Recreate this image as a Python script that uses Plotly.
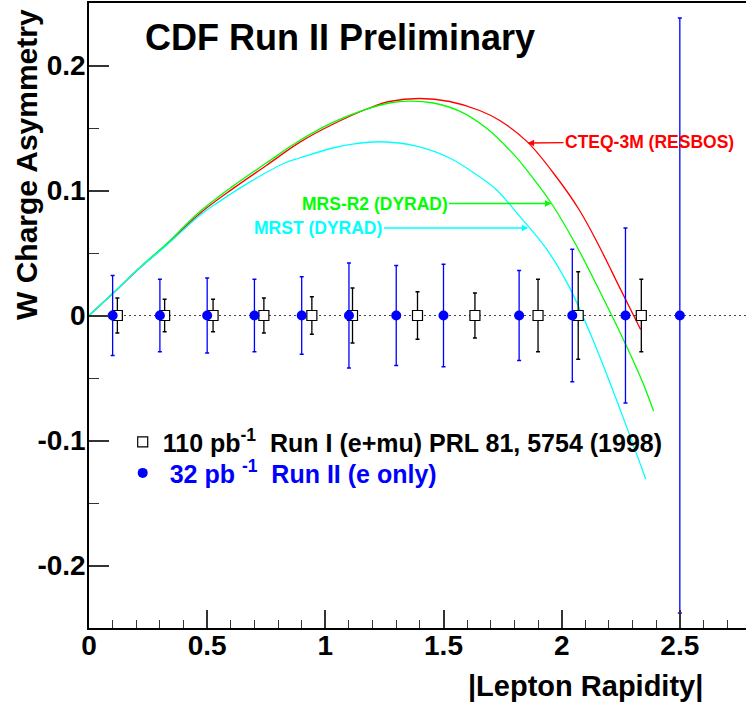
import plotly.graph_objects as go

# ---------------- data ----------------
run2_x = [0.10, 0.30, 0.50, 0.70, 0.90, 1.10, 1.30, 1.50, 1.82, 2.045, 2.27, 2.50]
run2_y = [0, 0, 0, 0, 0, 0, 0, 0, 0, 0, 0, 0]
run2_err = [0.032, 0.029, 0.030, 0.029, 0.031, 0.042, 0.040, 0.041, 0.036, 0.053, 0.070, 0.238]

run1_x = [0.12, 0.32, 0.525, 0.74, 0.943, 1.115, 1.39, 1.633, 1.90, 2.07, 2.337]
run1_y = [0, 0, 0, 0, 0, 0, 0, 0, 0, 0, 0]
run1_err = [0.014, 0.013, 0.013, 0.014, 0.015, 0.022, 0.019, 0.018, 0.029, 0.035, 0.029]

cteq_x = [0, 0.103, 0.2145, 0.327, 0.468, 0.609, 0.75, 0.891, 1.032, 1.2, 1.271, 1.399,
          1.526, 1.653, 1.738, 1.856, 1.977, 2.076, 2.16, 2.245, 2.334]
cteq_y = [0, 0.018, 0.038, 0.0565, 0.0815, 0.1015, 0.120, 0.1385, 0.153, 0.167, 0.1712, 0.1736,
          0.1712, 0.164, 0.156, 0.1387, 0.111, 0.084, 0.055, 0.0225, -0.0112]

mrsr2_x = [0, 0.103, 0.2145, 0.327, 0.468, 0.609, 0.75, 0.891, 1.032, 1.15, 1.271, 1.356,
           1.456, 1.568, 1.681, 1.794, 1.864, 1.957, 2.062, 2.165, 2.273, 2.344, 2.389]
mrsr2_y = [0, 0.0182, 0.0385, 0.0572, 0.083, 0.1035, 0.122, 0.140, 0.1545, 0.1635, 0.170, 0.1715,
           0.170, 0.1635, 0.150, 0.1295, 0.1135, 0.0896, 0.056, 0.018, -0.024, -0.054, -0.0765]

mrst_x = [0, 0.103, 0.2145, 0.327, 0.468, 0.546, 0.687, 0.828, 0.891, 1.032, 1.13, 1.23,
          1.385, 1.526, 1.66, 1.723, 1.822, 1.935, 2.033, 2.139, 2.25, 2.356]
mrst_y = [0, 0.018, 0.038, 0.056, 0.080, 0.0905, 0.1075, 0.122, 0.126, 0.134, 0.1375, 0.139,
          0.1355, 0.126, 0.110, 0.1008, 0.0795, 0.0535, 0.0225, -0.0225, -0.0765, -0.131]

x_tickvals = [0, 0.5, 1, 1.5, 2, 2.5]
x_ticktext = ["0", "0.5", "1", "1.5", "2", "2.5"]
y_tickvals = [-0.2, -0.1, 0, 0.1, 0.2]
y_ticktext = ["-0.2", "-0.1", "0", "0.1", "0.2"]

# label anchor points on curves (x, y)
cteq_label_pt = (1.856, 0.138)
mrsr2_label_pt = (1.957, 0.0896)
mrst_label_pt = (1.859, 0.0700)

FONT = "Liberation Sans, Arial, sans-serif"
NB = "\u00a0"

fig = go.Figure()

# theory curves
for cx, cy, col in [(cteq_x, cteq_y, "#ff0000"), (mrsr2_x, mrsr2_y, "#00ff00"), (mrst_x, mrst_y, "#00ffff")]:
    fig.add_trace(go.Scatter(x=cx, y=cy, mode="lines",
                             line=dict(color=col, width=1.3, shape="spline", smoothing=1.0),
                             showlegend=False, hoverinfo="skip"))

# Run I data
fig.add_trace(go.Scatter(
    x=run1_x, y=run1_y, mode="markers",
    marker=dict(symbol="square", size=10, color="white", line=dict(color="black", width=1.2)),
    error_y=dict(type="data", array=run1_err, color="black", thickness=1.3, width=2),
    name="110 pb<sup>-1</sup>" + NB + NB + "Run I (e+mu) PRL 81, 5754 (1998)",
    legend="legend",
))
# Run II data
fig.add_trace(go.Scatter(
    x=run2_x, y=run2_y, mode="markers",
    marker=dict(symbol="circle", size=10, color="#0000ff"),
    error_y=dict(type="data", array=run2_err, color="#0000ff", thickness=1.3, width=2),
    name='<span style="color:#0000ff">' + NB + "32 pb" + NB + "<sup>-1</sup>" + NB + NB + "Run II (e only)</span>",
    legend="legend2",
))

fig.add_hline(y=0, line=dict(color="#444444", width=1.2, dash="2px,3px"), layer="below")

ann_font = dict(family=FONT, size=17.5, weight="bold")
fig.add_annotation(x=cteq_label_pt[0], y=cteq_label_pt[1], xref="x", yref="y",
                   text="CTEQ-3M (RESBOS)", font=dict(color="#ff0000", **ann_font),
                   showarrow=True, ax=122, ay=-1, arrowhead=2, arrowsize=1, arrowwidth=1.3,
                   arrowcolor="#ff0000", standoff=0)
fig.add_annotation(x=mrsr2_label_pt[0], y=mrsr2_label_pt[1], xref="x", yref="y",
                   text="MRS-R2 (DYRAD)", font=dict(color="#00ff00", **ann_font),
                   showarrow=True, ax=-177, ay=0, arrowhead=2, arrowsize=1, arrowwidth=1.3,
                   arrowcolor="#00ff00", standoff=0)
fig.add_annotation(x=mrst_label_pt[0], y=mrst_label_pt[1], xref="x", yref="y",
                   text="MRST (DYRAD)", font=dict(color="#00ffff", **ann_font),
                   showarrow=True, ax=-210, ay=0, arrowhead=2, arrowsize=1, arrowwidth=1.3,
                   arrowcolor="#00ffff", standoff=0)

# title
fig.add_annotation(x=0.3828, y=0.9455, xref="paper", yref="paper", xanchor="center", yanchor="middle",
                   text="CDF Run II Preliminary", showarrow=False,
                   font=dict(family=FONT, size=36, weight="bold", color="black"))
# axis titles
fig.add_annotation(x=-0.0959, y=0.7424, xref="paper", yref="paper", xanchor="center", yanchor="middle",
                   text="W Charge Asymmetry", showarrow=False, textangle=-90,
                   font=dict(family=FONT, size=30, weight="bold", color="black"))
fig.add_annotation(x=0.9376, y=-0.092, xref="paper", yref="paper", xanchor="right", yanchor="middle",
                   text="|Lepton Rapidity|", showarrow=False,
                   font=dict(family=FONT, size=29, weight="bold", color="black"))

leg_common = dict(xanchor="left", yanchor="top", bgcolor="rgba(0,0,0,0)", borderwidth=0,
                  font=dict(family=FONT, size=25, weight="bold", color="black"))

fig.update_layout(
    width=746, height=706,
    margin=dict(l=89, r=0, t=3, b=78, autoexpand=False),
    paper_bgcolor="white", plot_bgcolor="white",
    font=dict(family=FONT, color="black"),
    legend=dict(x=0.0513, y=0.3342, **leg_common),
    legend2=dict(x=0.0513, y=0.2846, **leg_common),
    xaxis=dict(range=[0, 2.78], showgrid=False, zeroline=False, automargin=False,
               showline=True, linecolor="black", linewidth=1.5, mirror=True,
               ticks="inside", ticklen=18, tickwidth=1.5, tickcolor="#333333",
               tickvals=x_tickvals, ticktext=x_ticktext,
               tickfont=dict(family=FONT, size=28, weight="bold"),
               ticklabelstandoff=-8,
               minor=dict(dtick=0.1, tick0=0, ticks="inside", ticklen=8, tickwidth=1, tickcolor="#333333",
                          showgrid=False)),
    yaxis=dict(range=[-0.25, 0.25], showgrid=False, zeroline=False, automargin=False,
               showline=True, linecolor="black", linewidth=1.5, mirror=False,
               ticks="inside", ticklen=20, tickwidth=1.5, tickcolor="#333333",
               tickvals=y_tickvals, ticktext=y_ticktext,
               tickfont=dict(family=FONT, size=28, weight="bold"),
               ticklabelstandoff=-4,
               minor=dict(dtick=0.05, tick0=0, ticks="inside", ticklen=10, tickwidth=1, tickcolor="#333333",
                          showgrid=False)),
)

fig.write_html("out.html", config={"displayModeBar": False},
               post_script="document.body.style.margin='0px';")
